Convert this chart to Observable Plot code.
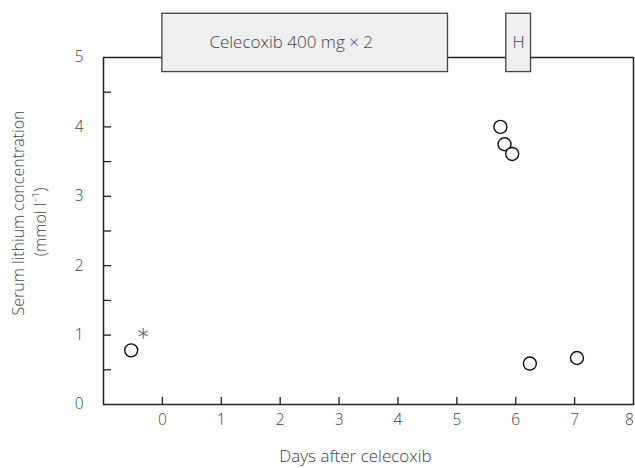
<!DOCTYPE html>
<html>
<head>
<meta charset="utf-8">
<script src="https://cdn.jsdelivr.net/npm/d3@7"></script>
<script src="https://cdn.jsdelivr.net/npm/@observablehq/plot@0.6"></script>
<style>
  html, body { margin: 0; padding: 0; background: #fff; }
  #chart { width: 635px; height: 468px; }
</style>
</head>
<body>
<div id="chart"></div>
<script>
// Data
const days = [-0.53, 5.74, 5.81, 5.94, 6.24, 7.04];
const lithium = [0.78, 4.0, 3.75, 3.61, 0.59, 0.67];
const asteriskIndex = [0];

const xTicks = [0, 1, 2, 3, 4, 5, 6, 7, 8];
const yTickMinor = [0, 0.5, 1, 1.5, 2, 2.5, 3, 3.5, 4, 4.5, 5];
const yTickLabels = [0, 1, 2, 3, 4, 5];

const boxLabels = ["Celecoxib 400 mg × 2", "H"];
const boxStart = [0, 5.84];
const boxEnd = [4.85, 6.26];
const boxLow = [4.79, 4.79];
const boxHigh = [5.63, 5.63];

const yLabelLines = ["Serum lithium concentration", "(mmol l\u207B\u00B9)"];
const xLabel = "Days after celecoxib";

const points = days.map((d, i) => ({x: d, y: lithium[i]}));
const boxes = boxLabels.map((l, i) => ({label: l, x1: boxStart[i], x2: boxEnd[i], y1: boxLow[i], y2: boxHigh[i]}));

const font = "'Open Sans', Lato, sans-serif";
const textColor = "#444";

const chart = Plot.plot({
  width: 635,
  height: 468,
  marginLeft: 103,
  marginRight: 2,
  marginTop: 57,
  marginBottom: 64,
  style: {fontFamily: font, fontSize: "15px", color: textColor, background: "#fff"},
  x: {domain: [-1, 8]},
  y: {domain: [0, 5]},
  marks: [
    Plot.frame({stroke: "#222", strokeWidth: 1.5}),
    // inward ticks
    Plot.axisX({ticks: xTicks.filter(t => t < 8), tickSize: -7, text: null, stroke: "#222", strokeWidth: 1.3, label: null}),
    Plot.axisX({ticks: xTicks.filter(t => t < 8), tickSize: 0, tickPadding: 9, tickFormat: d => String(d), fontSize: 15.5, fontWeight: 300, fill: textColor, label: null}),
    Plot.axisX({ticks: xTicks.filter(t => t >= 8), tickSize: 0, tickPadding: 9, tickFormat: d => String(d), dx: -4, fontSize: 15.5, fontWeight: 300, fill: textColor, label: null}),
    Plot.axisY({ticks: yTickMinor.filter(t => t > 0 && t < 5), tickSize: -8, text: null, stroke: "#222", strokeWidth: 1.3, label: null}),
    Plot.axisY({ticks: yTickLabels, tickSize: 0, tickPadding: 20, tickFormat: d => String(d), fontSize: 15.5, fontWeight: 300, fill: textColor, label: null}),
    // axis titles
    Plot.text([yLabelLines[0]], {frameAnchor: "left", rotate: -90, textAnchor: "middle", dx: -85, dy: -18, fontSize: 16, fontWeight: 300, fill: textColor, text: d => d}),
    Plot.text([yLabelLines[1]], {frameAnchor: "left", rotate: -90, textAnchor: "middle", dx: -63, dy: -9, fontSize: 16, fontWeight: 300, fill: textColor, text: d => d}),
    Plot.text([xLabel], {frameAnchor: "bottom", dx: -13, dy: 57, fontSize: 17, fontWeight: 300, fill: textColor, text: d => d}),
    // treatment boxes
    Plot.rect(boxes, {x1: "x1", x2: "x2", y1: "y1", y2: "y2", fill: "#eeeff0", stroke: "#444", strokeWidth: 1.3}),
    Plot.text(boxes.slice(0, 1), {x: "x1", y: d => (d.y1 + d.y2) / 2, text: "label", textAnchor: "start", dx: 47, fontSize: 17, fontWeight: 300, fill: textColor}),
    Plot.text(boxes.slice(1), {x: d => (d.x1 + d.x2) / 2, y: d => (d.y1 + d.y2) / 2, text: "label", fontSize: 17, fontWeight: 300, fill: textColor}),
    // data points
    Plot.dot(points, {x: "x", y: "y", r: 6.5, stroke: "#111", strokeWidth: 1.4, fill: "white"}),
    Plot.dot(asteriskIndex.map(i => points[i]), {x: "x", y: "y", symbol: "asterisk", r: 5, dx: 12, dy: -17, stroke: "#777", strokeWidth: 1.2})
  ]
});
document.getElementById("chart").appendChild(chart);
</script>
</body>
</html>
